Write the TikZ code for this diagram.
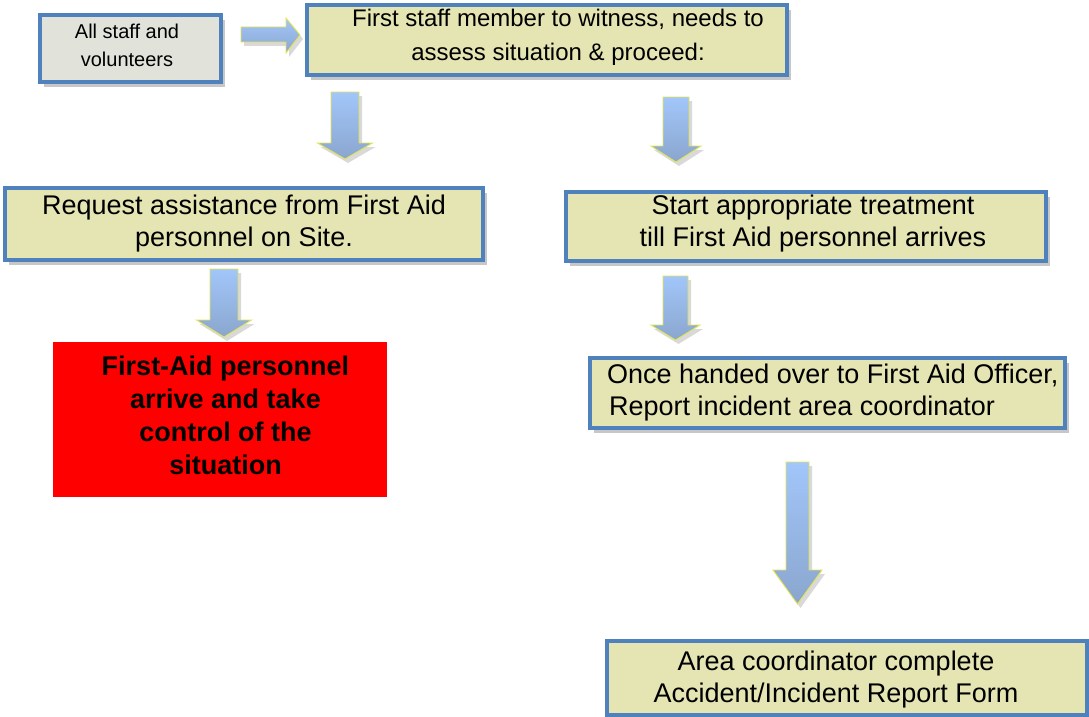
\documentclass[tikz,border=0pt]{standalone}
\usepackage{fontspec}
\setmainfont{Liberation Sans}
\usetikzlibrary{shadows}
\definecolor{bordblue}{HTML}{4F81BD}
\definecolor{khaki}{HTML}{E5E5B4}
\definecolor{paleg}{HTML}{E1E3DB}
\definecolor{arrtop}{HTML}{A2C6FA}
\definecolor{arrbot}{HTML}{8AA6CE}
\definecolor{arredge}{HTML}{E4E452}
\newcommand\blockdown[7]{%
  \path[blockarrow] (#2-#6,#3) -- (#2+#6,#3) -- (#2+#6,#4) -- (#2+#7,#4) -- (#2,#5) -- (#2-#7,#4) -- (#2-#6,#4) -- cycle;
  \coordinate (#1) at (#2,#5);}
\begin{document}
\begin{tikzpicture}[x=1pt,y=-1pt,
  box/.style={draw=bordblue, line width=3.5pt, fill=khaki, inner sep=0pt,
    drop shadow={shadow xshift=4pt, shadow yshift=-5pt, opacity=0.22, fill=black}},
  mainfont/.style={font=\fontsize{27}{32}\selectfont},
  blockarrow/.style={draw=arredge, line width=0.9pt, top color=arrtop, bottom color=arrbot,
    drop shadow={shadow xshift=3pt, shadow yshift=-4pt, opacity=0.15, fill=black}},
  txt/.style={inner sep=0pt, align=center}]
\useasboundingbox (0,0) rectangle (1089,717);

% boxes
\node[box, fill=paleg, minimum width=181pt, minimum height=67pt] (all) at (130.5,48.5) {};
\node[txt, font=\fontsize{20}{28}\selectfont] (allt) at (127,45.5) {All staff and\\volunteers};
\node[box, minimum width=480pt, minimum height=70pt] (first) at (547,40) {};
\node[txt, font=\fontsize{24}{34}\selectfont] (firstt) at (558,37) {First staff member to witness, needs to\\assess situation \& proceed:};
\node[box, minimum width=478pt, minimum height=72pt] (req) at (244,224) {};
\node[txt, mainfont] (reqt) at (244,224) {Request assistance from First Aid\\personnel on Site.};
\node[box, minimum width=480pt, minimum height=69pt] (start) at (806,226.5) {};
\node[txt, mainfont] (startt) at (813,223.5) {Start appropriate treatment\\till First Aid personnel arrives};
\node[box, minimum width=475pt, minimum height=70pt] (once) at (827.5,393) {};
\node[txt, mainfont, align=left, anchor=west] (oncet) at (607,393) {Once handed over to First Aid Officer,\\\hspace{2pt}Report incident area coordinator};
\node[box, minimum width=480pt, minimum height=74pt] (area) at (847,678) {};
\node[txt, mainfont] (areat) at (836,680) {Area coordinator complete\\Accident/Incident Report Form};
\node[fill=red, minimum width=334pt, minimum height=155pt, inner sep=0pt] (fa) at (220,419.5) {};
\node[txt, font=\fontsize{27}{33}\selectfont\bfseries] (fat) at (225.5,415.5) {First-Aid personnel\\arrive and take\\control of the\\situation};

% block arrows
\path[blockarrow] (241,27) -- (286,27) -- (286,18) -- (300,35) -- (286,53) -- (286,42) -- (241,42) -- cycle;
\blockdown{a1}{345}{92}{143}{159}{14}{27.5}
\blockdown{a2}{676}{97}{146}{162}{13}{25}
\blockdown{a3}{224}{269}{320}{337}{14}{27.5}
\blockdown{a4}{675.5}{276}{325}{340}{12.5}{24.5}
\blockdown{a5}{797.5}{462}{570}{604}{11.5}{24.5}
\end{tikzpicture}
\end{document}
